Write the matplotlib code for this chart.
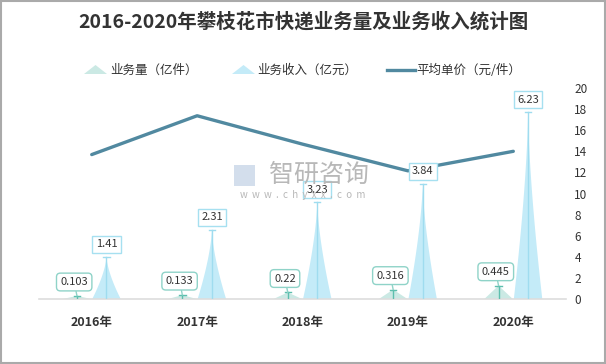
import matplotlib
matplotlib.use('Agg')
import matplotlib.pyplot as plt
from matplotlib.patches import Polygon, Rectangle
import numpy as np

plt.rcParams['font.family'] = ['Noto Sans CJK SC', 'DejaVu Sans']

# 数据
years = ['2016年', '2017年', '2018年', '2019年', '2020年']
volume = [0.103, 0.133, 0.22, 0.316, 0.445]      # 业务量（亿件）
revenue = [1.41, 2.31, 3.23, 3.84, 6.23]         # 业务收入（亿元）
price = [13.69, 17.37, 14.68, 12.15, 14.0]       # 平均单价（元/件）

c_vol = '#cbe9e4'
c_vol_edge = '#8fd3c8'
c_vol_line = '#5dbfae'
c_rev = '#c4ebf8'
c_rev_edge = '#a6e0f0'
c_line = '#5189a0'

fig = plt.figure(figsize=(6.06, 3.64), dpi=100)
fig.patches.append(Rectangle((0.002, 0.003), 0.996, 0.994, transform=fig.transFigure,
                             fill=False, edgecolor='#aaaaaa', lw=1.5))

ax = fig.add_axes([0.0644, 0.1786, 0.8696, 0.5796])
ax2 = ax.twinx()
x = np.arange(len(years))
ax.set_xlim(-0.5, len(years) - 0.5)
ax.set_ylim(0, 7.04)
ax2.set_ylim(0, 20)
ax2.set_yticks(range(0, 21, 2))
ax.set_yticks([])

for a in (ax, ax2):
    for s in a.spines.values():
        s.set_visible(False)
ax.spines['bottom'].set_visible(True)
ax.spines['bottom'].set_color('#dddddd')
ax.spines['bottom'].set_linewidth(1.2)
ax.set_xticks(x)
ax.set_xticklabels(years, fontsize=9, fontweight='bold', color='#333333')
ax.tick_params(axis='x', length=0, pad=12)
ax2.tick_params(axis='y', length=0, labelsize=8.5, labelcolor='#333333', pad=6)

hw = 0.135
off = 0.14
t = np.linspace(0, 1, 40)


def spike(cx, h, color, k):
    w = hw * t ** k
    xs = np.concatenate([cx - w, (cx + w)[::-1]])
    ys = np.concatenate([h * (1 - t), (h * (1 - t))[::-1]])
    ax.fill(xs, ys, color=color, lw=0, zorder=2)


for i in range(len(years)):
    # 业务量
    xv = x[i] - off
    spike(xv, volume[i], c_vol, 1.0)
    ax.plot([xv, xv], [0, volume[i]], color=c_vol_line, lw=1, zorder=3)
    ax.plot([xv - 0.03, xv + 0.03], [volume[i]] * 2, color=c_vol_line, lw=1, zorder=3)
    # 业务收入
    xr = x[i] + off
    spike(xr, revenue[i], c_rev, 1.5)
    ax.plot([xr, xr], [0, revenue[i]], color='#9fdcef', lw=1, zorder=3)
    ax.plot([xr - 0.03, xr + 0.03], [revenue[i]] * 2, color='#9fdcef', lw=1, zorder=3)

ax2.plot(x, price, color=c_line, lw=2.4, zorder=4, solid_capstyle='round')

# 水印
fig.text(319 / 606, 1 - 175 / 364, '智研咨询', fontsize=18, color='#b8b8b8', ha='center', va='center',
         zorder=1)
fig.text(303 / 606, 1 - 195 / 364, 'w  w  w  .  c  h  y  x  x  .  c  o  m', fontsize=7, color='#b8b8b8',
         ha='center', va='center', zorder=1)
fig.patches.append(Rectangle((234 / 606, 1 - 186 / 364), 21 / 606, 21 / 364, transform=fig.transFigure,
                             fc='#c9d6e8', ec='none', alpha=0.8))

for i in range(len(years)):
    ax2.annotate(f'{revenue[i]:g}', xy=(x[i] + off, revenue[i]), xycoords=ax.transData,
                 xytext=(0, 9), textcoords='offset points', ha='center', va='center',
                 fontsize=8, color='#333333', zorder=6,
                 bbox=dict(boxstyle='square,pad=0.3', fc='white', ec=c_rev_edge, lw=1))
    ax2.annotate(f'{volume[i]:g}', xy=(x[i] - off, volume[i]), xycoords=ax.transData,
                 xytext=(-2, 10), textcoords='offset points', ha='center', va='center',
                 fontsize=8, color='#333333', zorder=6,
                 bbox=dict(boxstyle='round,pad=0.35', fc='white', ec=c_vol_edge, lw=1),
                 arrowprops=dict(arrowstyle='-', color=c_vol_edge, lw=1, shrinkA=0, shrinkB=0))

# 标题
fig.text(0.5, 1 - 22 / 364, '2016-2020年攀枝花市快递业务量及业务收入统计图', fontsize=14,
         fontweight='bold', color='#333333', ha='center', va='center')

# 图例
ly = 1 - 70 / 364


def fx(px):
    return px / 606


def fy(py):
    return 1 - py / 364


fig.patches.append(Polygon([(fx(84), fy(74)), (fx(95.5), fy(65)), (fx(107), fy(74))],
                           closed=True, transform=fig.transFigure, fc=c_vol, ec='none'))
fig.text(fx(110), ly, '业务量（亿件）', fontsize=9, color='#333333', va='center')
fig.patches.append(Polygon([(fx(232), fy(74)), (fx(243.5), fy(65)), (fx(255), fy(74))],
                           closed=True, transform=fig.transFigure, fc=c_rev, ec='none'))
fig.text(fx(257), ly, '业务收入（亿元）', fontsize=9, color='#333333', va='center')
fig.lines.append(plt.Line2D([fx(387), fx(415)], [ly, ly], transform=fig.transFigure,
                            color=c_line, lw=2.4))
fig.text(fx(416), ly, '平均单价（元/件）', fontsize=9, color='#333333', va='center')

fig.savefig('out.png', dpi=100)
